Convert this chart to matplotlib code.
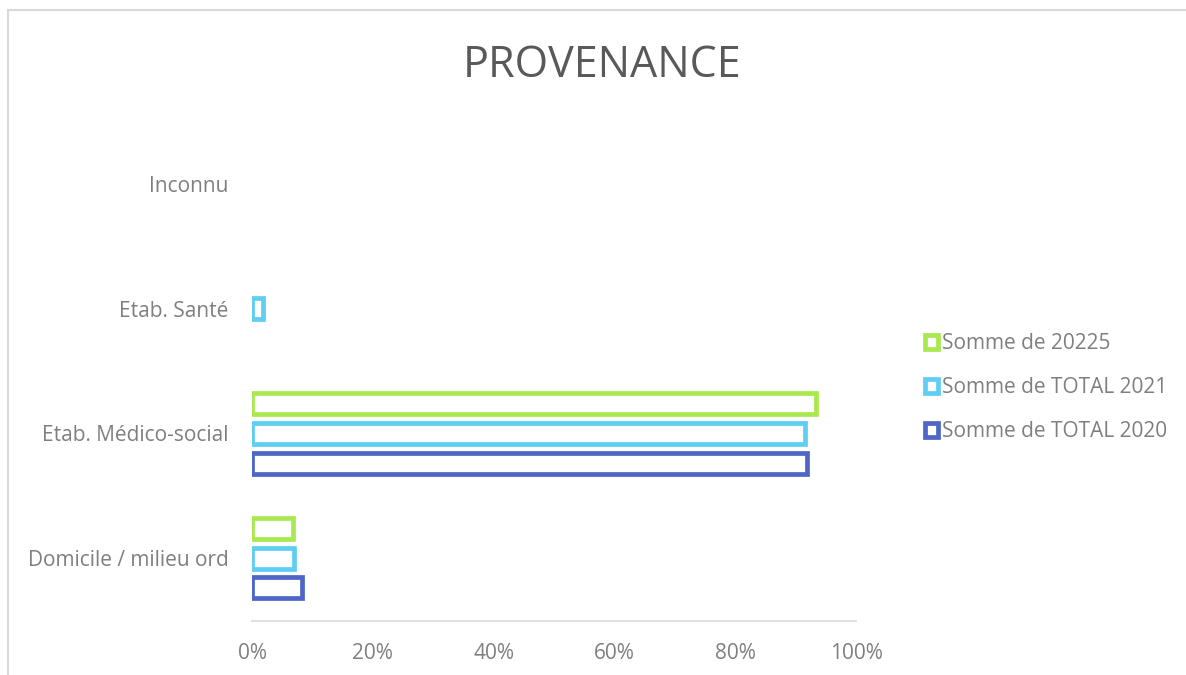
import matplotlib
matplotlib.use('Agg')
from matplotlib import pyplot as plt
from matplotlib.patches import Rectangle
from matplotlib.ticker import PercentFormatter
import numpy as np

plt.rcParams['font.family'] = ['Open Sans', 'DejaVu Sans']

# categories, bottom to top
categories = ['Domicile / milieu ord', 'Etab. Médico-social', 'Etab. Santé', 'Inconnu']
total_2020 = [8.3, 91.8, 0.0, 0.0]
total_2021 = [6.9, 91.5, 1.8, 0.0]
somme_2025 = [6.75, 93.3, 0.0, 0.0]
series_labels = ['Somme de TOTAL 2020', 'Somme de TOTAL 2021', 'Somme de 20225']
colors = ['#4F66C6', '#5FCEF3', '#A9E94F']
x_ticks = [0, 20, 40, 60, 80, 100]

fig = plt.figure(figsize=(11.86, 6.75), dpi=100)
ax = fig.add_axes([0.2125, 0.0807, 0.5093, 0.7393])

y = np.arange(len(categories))
pitch = 0.238
h = 0.168
for i, vals in enumerate([total_2020, total_2021, somme_2025]):
    vals = np.array(vals)
    keep = vals > 0  # excel draws nothing for empty values
    ax.barh(y[keep] + (i - 1) * pitch, vals[keep], height=h, facecolor='white',
            edgecolor=colors[i], linewidth=3.4, label=series_labels[i])

ax.set_xlim(0, 100)
ax.set_ylim(-0.5, len(categories) - 0.5)
ax.set_xticks(x_ticks)
ax.xaxis.set_major_formatter(PercentFormatter(decimals=0))
ax.set_yticks(y)
ax.set_yticklabels(categories)
ax.tick_params(axis='both', length=0, labelsize=15, colors='#7F7F7F')
ax.tick_params(axis='x', pad=16)
ax.tick_params(axis='y', pad=17)
for s in ['top', 'right', 'left']:
    ax.spines[s].set_visible(False)
ax.spines['bottom'].set_color('#D9D9D9')
ax.spines['bottom'].set_linewidth(1.2)

fig.text(0.5075, 0.903, 'PROVENANCE', ha='center', va='center',
         fontsize=31, color='#595959')

# legend, top entry is 2025
handles, labels = ax.get_legend_handles_labels()
leg = fig.legend(handles[::-1], labels[::-1], loc='center left',
                 bbox_to_anchor=(0.764, 0.426), frameon=False,
                 handlelength=0.65, handleheight=0.65, handletextpad=0.15,
                 labelspacing=1.1, fontsize=15, labelcolor='#7F7F7F')

# chart frame
fig.patches.append(Rectangle((7.5 / 1186, -0.1), 1.2, 1 - 9.5 / 675 + 0.1,
                             transform=fig.transFigure, fill=False,
                             edgecolor='#D9D9D9', linewidth=1.5))

fig.savefig('out.png', dpi=100)
